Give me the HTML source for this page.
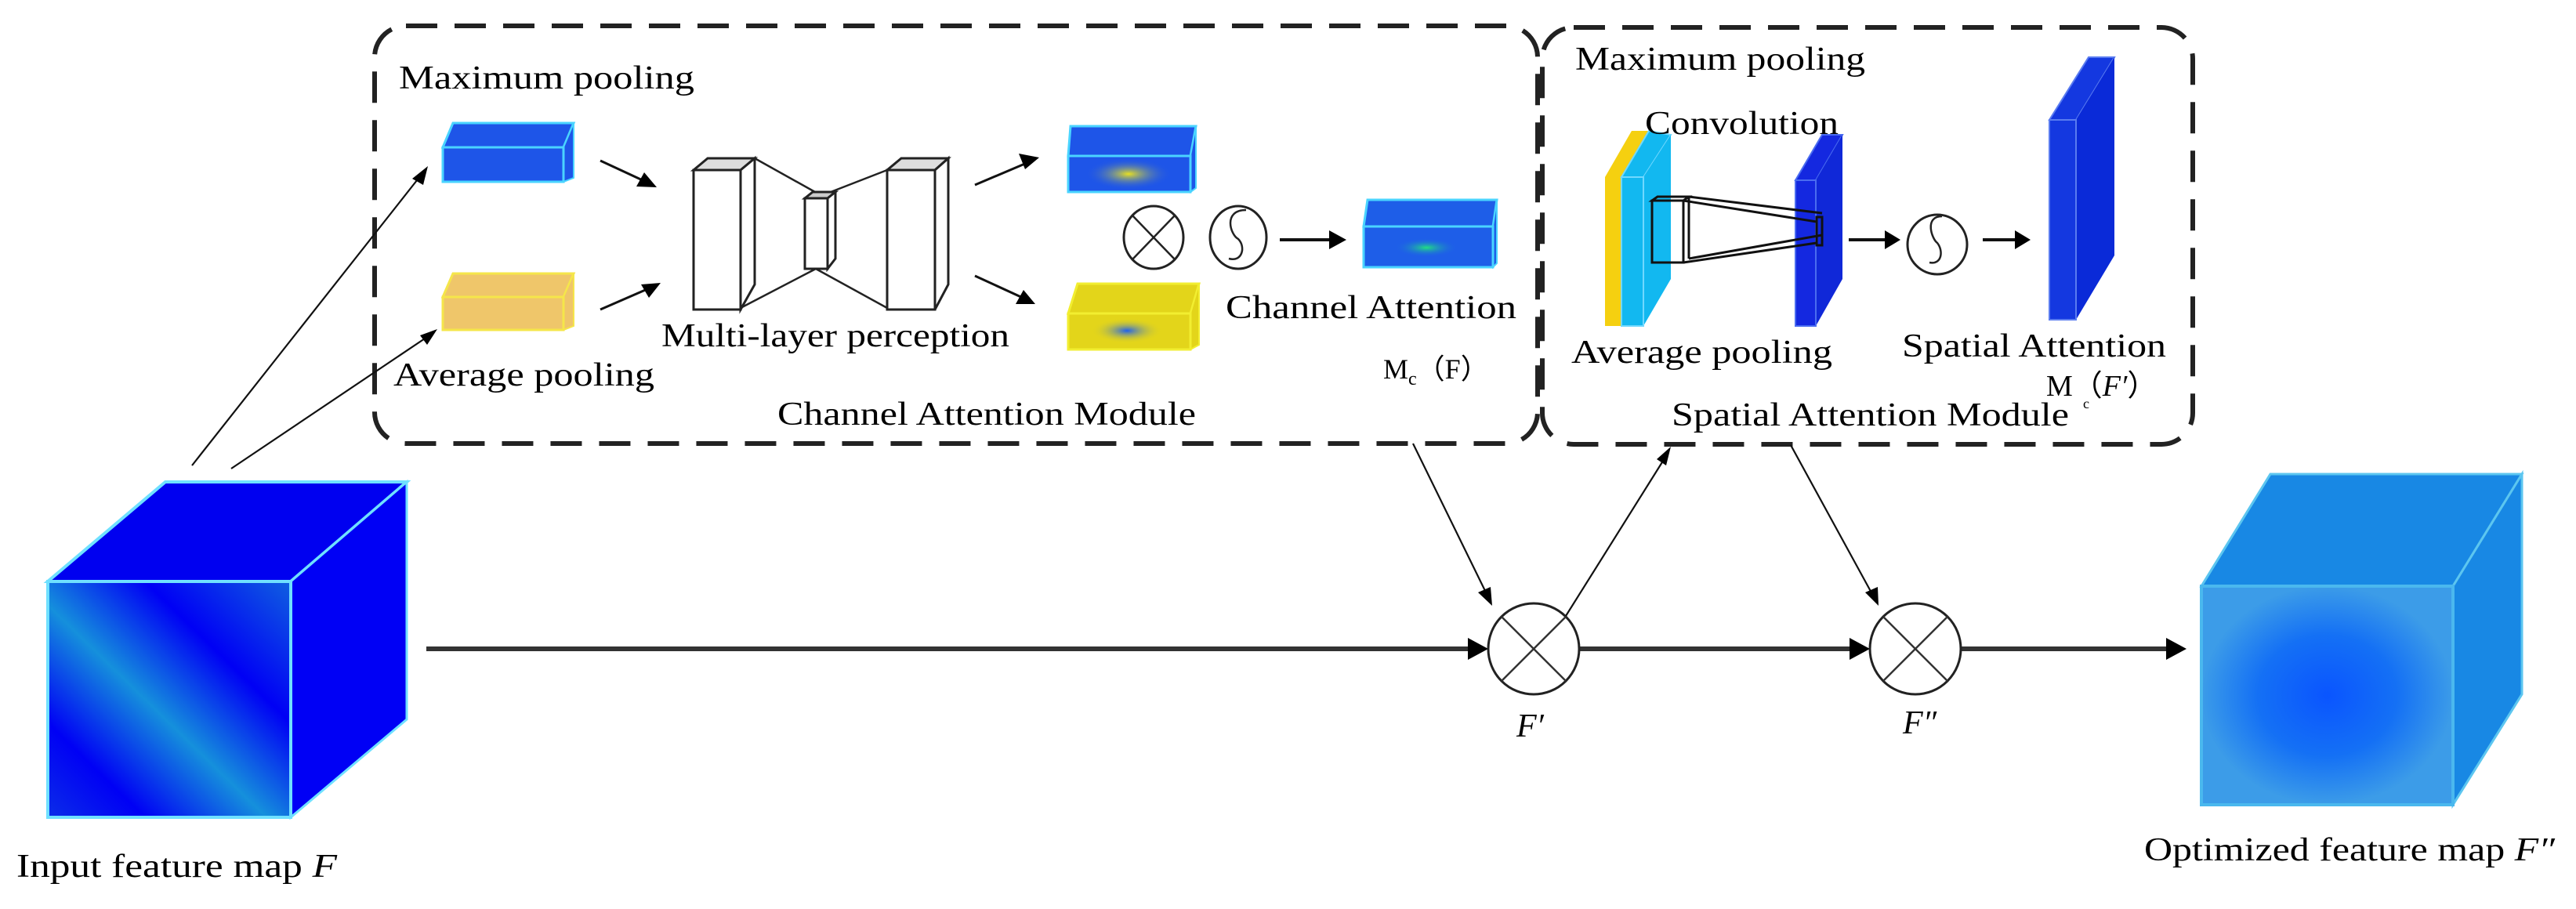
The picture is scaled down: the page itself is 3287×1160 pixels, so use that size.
<!DOCTYPE html>
<html><head><meta charset="utf-8"><style>
html,body{margin:0;padding:0;background:#fff;}
svg{display:block;}
text{font-family:"Liberation Serif",serif;fill:#000;}
</style></head><body>
<svg width="3287" height="1160" viewBox="0 0 3287 1160" xmlns="http://www.w3.org/2000/svg">
<defs>
<marker id="ah" markerWidth="10" markerHeight="10" refX="9" refY="5" orient="auto" markerUnits="userSpaceOnUse" viewBox="0 0 10 10">
</marker>
<linearGradient id="inF" x1="0" y1="1" x2="1" y2="0">
<stop offset="0" stop-color="#0b2de8"/><stop offset="0.2" stop-color="#0000f5"/><stop offset="0.45" stop-color="#1590dc"/><stop offset="0.7" stop-color="#0000f5"/><stop offset="1" stop-color="#1060e0"/>
</linearGradient>
<radialGradient id="outF" cx="0.5" cy="0.5" r="0.5">
<stop offset="0" stop-color="#0a55ff"/><stop offset="0.55" stop-color="#1470f5"/><stop offset="1" stop-color="#3c9ce8"/>
</radialGradient>
<radialGradient id="ysp"><stop offset="0" stop-color="#e8e020"/><stop offset="1" stop-color="#1e55e8" stop-opacity="0"/></radialGradient>
<radialGradient id="bsp"><stop offset="0" stop-color="#1e60f0"/><stop offset="1" stop-color="#e3d51a" stop-opacity="0"/></radialGradient>
<radialGradient id="gsp"><stop offset="0" stop-color="#20e080"/><stop offset="1" stop-color="#1e60e8" stop-opacity="0"/></radialGradient>
</defs>

<!-- dashed boxes -->
<rect x="478" y="33" width="1484" height="533" rx="40" fill="none" stroke="#222" stroke-width="6" stroke-dasharray="40,22"/>
<rect x="1968" y="35" width="830" height="532" rx="40" fill="none" stroke="#222" stroke-width="6" stroke-dasharray="40,22"/>

<!-- input cube -->
<polygon points="211,615 519,615 371,742 61,742" fill="#0000f0" stroke="#6fe0ff" stroke-width="4"/>
<polygon points="371,742 519,615 519,918 371,1043" fill="#0000f5" stroke="#6fe0ff" stroke-width="3"/>
<rect x="61" y="742" width="310" height="301" fill="url(#inF)" stroke="#6fe0ff" stroke-width="4"/>

<!-- output cube -->
<polygon points="2897,605 3218,605 3130,748 2809,748" fill="#1888e4" stroke="#5cc6f0" stroke-width="3"/>
<polygon points="3130,748 3218,605 3218,886 3130,1027" fill="#1888e4" stroke="#5cc6f0" stroke-width="3"/>
<rect x="2809" y="748" width="321" height="279" fill="url(#outF)" stroke="#4ab8ee" stroke-width="4"/>

<!-- main arrow line -->
<g stroke="#333" stroke-width="6" fill="none">
<line x1="544" y1="828" x2="1880" y2="828"/>
<line x1="2015" y1="828" x2="2365" y2="828"/>
<line x1="2502" y1="828" x2="2770" y2="828"/>
</g>
<g fill="#000">
<polygon points="1899,828 1873,814 1873,842"/>
<polygon points="2386,828 2360,814 2360,842"/>
<polygon points="2790,828 2764,814 2764,842"/>
</g>
<!-- circles -->
<g stroke="#222" stroke-width="3" fill="#fff">
<ellipse cx="1957" cy="828" rx="58" ry="58"/>
<ellipse cx="2444" cy="828" rx="58" ry="58"/>
</g>
<g stroke="#333" stroke-width="2.5">
<line x1="1916" y1="787" x2="1998" y2="869"/><line x1="1998" y1="787" x2="1916" y2="869"/>
<line x1="2403" y1="787" x2="2485" y2="869"/><line x1="2485" y1="787" x2="2403" y2="869"/>
</g>

<!-- thin connectors -->
<g stroke="#111" stroke-width="2.2" fill="none">
<line x1="245" y1="594" x2="536" y2="225"/>
<line x1="295" y1="598" x2="548" y2="428"/>
<line x1="1803" y1="566" x2="1898" y2="760"/>
<line x1="1998" y1="786" x2="2124" y2="585"/>
<line x1="2285" y1="568" x2="2390" y2="760"/>
</g>
<g fill="#000">
<polygon points="546,212 526,228 540,236"/>
<polygon points="558,420 536,428 545,440"/>
<polygon points="1904,773 1886,756 1902,749"/>
<polygon points="2132,570 2126,594 2114,586"/>
<polygon points="2397,773 2380,756 2396,749"/>
</g>

<!-- channel module contents -->
<!-- max pool box -->
<polygon points="578,157 732,157 719,188 565,188" fill="#1e55e8" stroke="#4ad4ff" stroke-width="3"/>
<polygon points="719,188 732,157 732,227 719,232" fill="#1e55e8" stroke="#4ad4ff" stroke-width="2"/>
<rect x="565" y="188" width="154" height="44" fill="#1e55e8" stroke="#4ad4ff" stroke-width="3"/>
<!-- avg pool box -->
<polygon points="578,349 732,349 719,379 565,379" fill="#efc66a" stroke="#f5e64a" stroke-width="3"/>
<polygon points="719,379 732,349 732,416 719,421" fill="#efc66a" stroke="#f5e64a" stroke-width="2"/>
<rect x="565" y="379" width="154" height="42" fill="#efc66a" stroke="#f5e64a" stroke-width="3"/>
<!-- arrows to MLP -->
<g stroke="#111" stroke-width="3"><line x1="766" y1="205" x2="822" y2="231"/><line x1="766" y1="395" x2="828" y2="368"/></g>
<g fill="#000"><polygon points="838,239 812,238 822,220"/><polygon points="843,361 828,380 818,363"/></g>
<!-- MLP -->
<g stroke="#222" stroke-width="3" fill="#fff">
<polygon points="885,217 945,217 963,202 903,202" fill="#ddd"/>
<polygon points="945,217 963,202 963,363 945,395"/>
<rect x="885" y="217" width="60" height="178"/>
<polygon points="1027,253 1056,253 1066,245 1037,245" fill="#ccc"/>
<polygon points="1056,253 1066,245 1066,330 1056,343"/>
<rect x="1027" y="253" width="29" height="90"/>
<polygon points="1132,217 1193,217 1210,202 1150,202" fill="#ddd"/>
<polygon points="1193,217 1210,202 1210,363 1193,395"/>
<rect x="1132" y="217" width="61" height="178"/>
</g>
<g stroke="#222" stroke-width="2.5">
<line x1="963" y1="202" x2="1040" y2="245"/><line x1="1060" y1="245" x2="1132" y2="217"/>
<line x1="945" y1="393" x2="1041" y2="343"/><line x1="1041" y1="343" x2="1132" y2="393"/>
</g>
<g stroke="#111" stroke-width="3"><line x1="1244" y1="236" x2="1310" y2="208"/><line x1="1244" y1="352" x2="1305" y2="380"/></g>
<g fill="#000"><polygon points="1326,201 1300,196 1308,216"/><polygon points="1321,388 1296,388 1306,370"/></g>
<!-- top output box -->
<polygon points="1366,161 1526,161 1519,199 1363,199" fill="#1e55e8" stroke="#4ad4ff" stroke-width="3"/>
<polygon points="1519,199 1526,161 1526,240 1519,245" fill="#1e55e8" stroke="#4ad4ff" stroke-width="2"/>
<rect x="1363" y="199" width="156" height="46" fill="#1e55e8" stroke="#4ad4ff" stroke-width="3"/>
<ellipse cx="1440" cy="222" rx="55" ry="20" fill="url(#ysp)"/>
<!-- bottom output box -->
<polygon points="1375,362 1530,362 1519,400 1363,400" fill="#e3d51a" stroke="#f2ee30" stroke-width="3"/>
<polygon points="1519,400 1530,362 1530,440 1519,446" fill="#e3d51a" stroke="#f2ee30" stroke-width="2"/>
<rect x="1363" y="400" width="156" height="46" fill="#e3d51a" stroke="#f2ee30" stroke-width="3"/>
<ellipse cx="1438" cy="422" rx="45" ry="16" fill="url(#bsp)"/>
<!-- otimes & sigma -->
<ellipse cx="1472" cy="303" rx="38" ry="40" fill="#fff" stroke="#222" stroke-width="3"/>
<line x1="1445" y1="275" x2="1499" y2="331" stroke="#222" stroke-width="2.5"/><line x1="1499" y1="275" x2="1445" y2="331" stroke="#222" stroke-width="2.5"/>
<ellipse cx="1580" cy="303" rx="36" ry="40" fill="#fff" stroke="#222" stroke-width="3"/>
<path d="M1590,268 C1560,268 1570,300 1580,305 C1590,315 1585,335 1568,330" fill="none" stroke="#222" stroke-width="2.5"/>
<line x1="1633" y1="306" x2="1700" y2="306" stroke="#111" stroke-width="4"/>
<polygon points="1718,306 1696,294 1696,318" fill="#000"/>
<!-- channel attention box -->
<polygon points="1745,255 1910,255 1905,289 1740,289" fill="#1e5ee8" stroke="#4ad4ff" stroke-width="3"/>
<polygon points="1905,289 1910,255 1910,336 1905,341" fill="#1e5ee8" stroke="#4ad4ff" stroke-width="2"/>
<rect x="1740" y="289" width="165" height="52" fill="#1e5ee8" stroke="#4ad4ff" stroke-width="3"/>
<ellipse cx="1820" cy="316" rx="40" ry="12" fill="url(#gsp)"/>

<!-- spatial module contents -->
<polygon points="2048,226 2069,226 2103,167 2082,167" fill="#f5d010"/>
<rect x="2048" y="226" width="21" height="190" fill="#f5d010"/>
<polygon points="2069,226 2097,226 2132,172 2104,167" fill="#12b8f0" stroke="#70d8ff" stroke-width="2"/>
<polygon points="2097,226 2132,172 2132,356 2097,416" fill="#12b8f0"/>
<rect x="2069" y="226" width="28" height="190" fill="#12b8f0" stroke="#70d8ff" stroke-width="2"/>
<polygon points="2291,230 2317,230 2351,172 2325,172" fill="#1428e0" stroke="#4a6cf0" stroke-width="2"/>
<polygon points="2317,230 2351,172 2351,356 2317,416" fill="#1028d8"/>
<rect x="2291" y="230" width="26" height="186" fill="#1428e0" stroke="#4a6cf0" stroke-width="2"/>
<!-- conv frustum -->
<g stroke="#111" stroke-width="3" fill="none">
<rect x="2108" y="256" width="40" height="79"/>
<polygon points="2108,256 2115,251 2155,251 2148,256"/>
<line x1="2155" y1="251" x2="2155" y2="330"/>
<line x1="2148" y1="256" x2="2318" y2="283"/><line x1="2155" y1="251" x2="2325" y2="272"/>
<line x1="2148" y1="335" x2="2318" y2="310"/><line x1="2155" y1="330" x2="2325" y2="300"/>
<rect x="2318" y="277" width="7" height="36"/>
</g>
<line x1="2359" y1="306" x2="2410" y2="306" stroke="#111" stroke-width="4"/>
<polygon points="2425,306 2405,294 2405,318" fill="#000"/>
<ellipse cx="2472" cy="312" rx="38" ry="38" fill="#fff" stroke="#222" stroke-width="3"/>
<path d="M2478,276 C2455,276 2465,305 2472,310 C2480,320 2478,338 2462,335" fill="none" stroke="#222" stroke-width="2.5"/>
<line x1="2530" y1="306" x2="2575" y2="306" stroke="#111" stroke-width="4"/>
<polygon points="2591,306 2571,294 2571,318" fill="#000"/>
<polygon points="2615,153 2649,153 2698,73 2665,73" fill="#1438e0" stroke="#5a7cf0" stroke-width="2"/>
<polygon points="2649,153 2698,73 2698,326 2649,408" fill="#0a2ad8"/>
<rect x="2615" y="153" width="34" height="255" fill="#1438e0" stroke="#5a7cf0" stroke-width="2"/>

<!-- text -->
<g font-size="42">
<text x="509" y="113" textLength="377" lengthAdjust="spacingAndGlyphs">Maximum pooling</text>
<text x="502" y="492" textLength="333" lengthAdjust="spacingAndGlyphs">Average pooling</text>
<text x="844" y="442" textLength="444" lengthAdjust="spacingAndGlyphs">Multi-layer perception</text>
<text x="1564" y="406" textLength="371" lengthAdjust="spacingAndGlyphs">Channel Attention</text>
<text x="992" y="542" textLength="534" lengthAdjust="spacingAndGlyphs">Channel Attention Module</text>
<text x="1765" y="483" font-size="36">M<tspan font-size="24" dy="8">c</tspan><tspan dy="-8">（F）</tspan></text>
<text x="2010" y="89" textLength="370" lengthAdjust="spacingAndGlyphs">Maximum pooling</text>
<text x="2099" y="171" textLength="247" lengthAdjust="spacingAndGlyphs">Convolution</text>
<text x="2005" y="463" textLength="333" lengthAdjust="spacingAndGlyphs">Average pooling</text>
<text x="2427" y="455" textLength="337" lengthAdjust="spacingAndGlyphs">Spatial Attention</text>
<text x="2611" y="505" font-size="38">M（<tspan font-style="italic">F′</tspan>）</text>
<text x="2658" y="521" font-size="18">c</text>
<text x="2133" y="543" textLength="507" lengthAdjust="spacingAndGlyphs">Spatial Attention Module</text>
<text x="21" y="1119" textLength="409" lengthAdjust="spacingAndGlyphs">Input feature map <tspan font-style="italic">F</tspan></text>
<text x="2736" y="1098" textLength="524" lengthAdjust="spacingAndGlyphs">Optimized feature map <tspan font-style="italic">F″</tspan></text>
<text x="1935" y="940" font-style="italic">F′</text>
<text x="2428" y="936" font-style="italic">F″</text>
</g>
</svg>
</body></html>
